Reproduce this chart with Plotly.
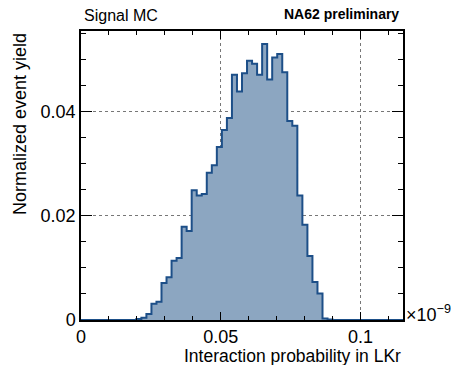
import plotly.graph_objects as go

# Histogram: 64 bins of width 0.0018 (x10^-9) from 0
bin_start = 0.0
bin_width = 0.0018
yields = [
    0, 0, 0, 0, 0, 0, 0, 0, 0, 0,
    0, 0.0002, 0.00045, 0.00115, 0.0031, 0.0035, 0.0071, 0.0082, 0.0114, 0.0119,
    0.0179, 0.0171, 0.0249, 0.0239, 0.0242, 0.0283, 0.0297, 0.0332, 0.0365, 0.0388,
    0.0471, 0.0439, 0.0474, 0.0498, 0.0492, 0.0471, 0.0530, 0.0462, 0.0504, 0.0511,
    0.0476, 0.0382, 0.0373, 0.0239, 0.0183, 0.0123, 0.0073, 0.0051, 0.0003, 0.0001,
    0, 0, 0, 0, 0, 0, 0, 0, 0, 0,
    0, 0, 0, 0,
]
x_ticks = [0, 0.05, 0.1]
x_ticklabels = ["0", "0.05", "0.1"]
y_ticks = [0, 0.02, 0.04]
y_ticklabels = ["0", "0.02", "0.04"]

edges = [bin_start + i * bin_width for i in range(len(yields) + 1)]
y_step = yields + [yields[-1]]

FONT = "Liberation Sans, Arial, sans-serif"

fig = go.Figure()
fig.add_trace(go.Scatter(
    x=edges, y=y_step, mode="lines", line_shape="hv",
    line=dict(color="#1d4f88", width=2),
    fill="tozeroy", fillcolor="#8ca6c1",
    hoverinfo="skip", showlegend=False,
))

axis_common = dict(
    showline=True, linecolor="black", linewidth=1.5, mirror="ticks",
    ticks="inside", tickcolor="black", tickwidth=1.2,
    showgrid=True, gridcolor="#777777", griddash="dot", gridwidth=1,
    zeroline=False, tickfont=dict(family=FONT, size=18, color="black"),
)

fig.update_xaxes(
    range=[0, bin_start + bin_width * len(yields)],
    tickvals=x_ticks, ticktext=x_ticklabels, ticklen=8,
    minor=dict(dtick=0.01, tick0=0, ticks="inside", ticklen=4,
               tickcolor="black", tickwidth=1, showgrid=False),
    **axis_common,
)
fig.update_yaxes(
    range=[0, 0.0555],
    tickvals=y_ticks, ticktext=y_ticklabels, ticklen=11,
    minor=dict(dtick=0.005, tick0=0, ticks="inside", ticklen=5,
               tickcolor="black", tickwidth=1, showgrid=False),
    **axis_common,
)

H = 289.0
W = 322.0
ann = [
    dict(text="Interaction probability in LKr", x=1.0, xanchor="right",
         y=(320 - 355.5) / H, yanchor="middle", font=dict(size=17.5)),
    dict(text="Normalized event yield", textangle=-90, x=(20 - 81) / W,
         xanchor="center", y=1.0, yanchor="top", font=dict(size=18)),
    dict(text="Signal MC", x=(82 - 81) / W, xanchor="left",
         y=(320 - 15) / H, yanchor="middle", font=dict(size=16)),
    dict(text="<b>NA62 preliminary</b>", x=(401 - 81) / W, xanchor="right",
         y=(320 - 14) / H, yanchor="middle", font=dict(size=14)),
    dict(text="×10<sup>−9</sup>", x=(404 - 81) / W, xanchor="left",
         y=(320 - 313) / H, yanchor="middle", font=dict(size=18)),
]
for a in ann:
    a.update(xref="paper", yref="paper", showarrow=False)
    a["font"].update(family=FONT, color="black")

fig.update_layout(
    width=451, height=365,
    margin=dict(l=81, r=48, t=31, b=45, pad=0),
    paper_bgcolor="white", plot_bgcolor="white",
    font=dict(family=FONT, color="black"),
    annotations=ann,
)

fig.write_html("out.html")
